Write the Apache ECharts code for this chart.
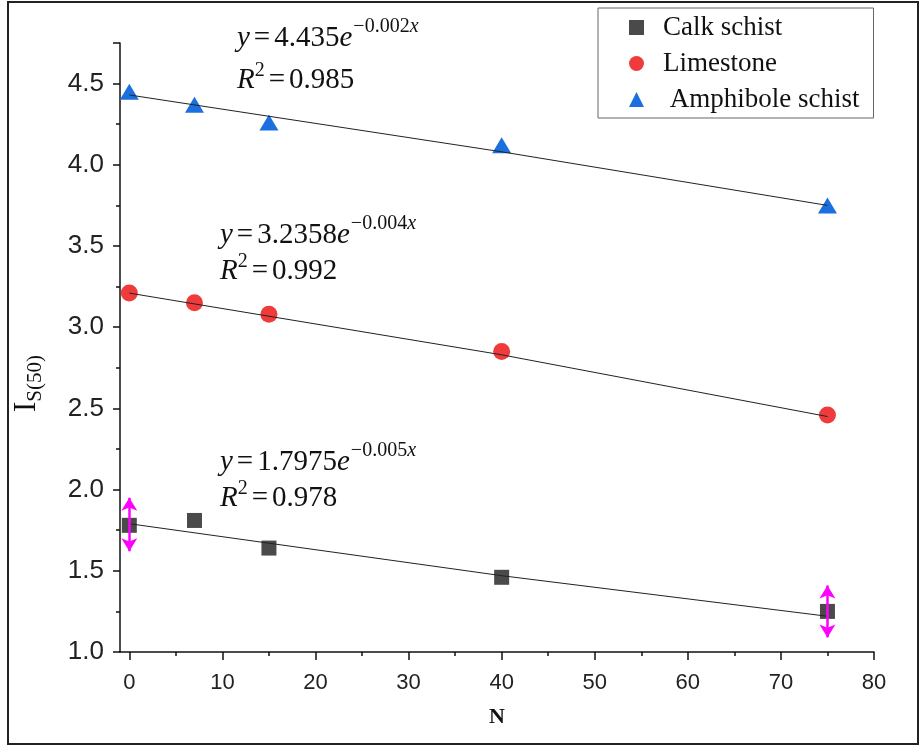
<!DOCTYPE html>
<html>
<head>
<meta charset="utf-8">
<script src="https://cdn.jsdelivr.net/npm/echarts@6/dist/echarts.min.js"></script>
<style>html,body{margin:0;padding:0;background:#fff}#c{width:923px;height:746px}</style>
</head>
<body>
<div id="c"></div>
<script>
// ---- data ----
const xN = [0, 7, 15, 40, 75];
const calkSchist = [1.78, 1.81, 1.64, 1.46, 1.25];
const limestone = [3.21, 3.15, 3.08, 2.85, 2.46];
const amphiboleSchist = [4.45, 4.37, 4.26, 4.12, 3.75];

const xFit = [0, 40, 75];
const calkFit = [1.79, 1.47, 1.22];
const limeFit = [3.21, 2.83, 2.45];
const amphFit = [4.43, 4.08, 3.75];

// error arrows (x, low, high)
const arrowX = [0, 75];
const arrowLow = [1.62, 1.09];
const arrowHigh = [1.95, 1.41];

const xTicks = [0, 10, 20, 30, 40, 50, 60, 70, 80];
const xMinorTicks = [5, 15, 25, 35, 45, 55, 65, 75];

const seriesNames = ['Calk schist', 'Limestone', 'Amphibole schist'];
const eqCoef = ['4.435', '3.2358', '1.7975'];
const eqExp = ['\u22120.002', '\u22120.004', '\u22120.005'];
const eqR2 = ['0.985', '0.992', '0.978'];

const colors = ['#4a4a4a', '#ef3b3b', '#1c6fdf'];

const pairs = (xs, ys) => xs.map((x, i) => [x, ys[i]]);

// ---- text helpers ----
const mctx = document.createElement('canvas').getContext('2d');
function w(text, font) { mctx.font = font; return mctx.measureText(text).width; }
const SERIF = '"Liberation Serif", "Times New Roman", serif';

function richLine(x0, yc, parts) {
  const els = [];
  let x = x0;
  parts.forEach(p => {
    const style = (p.italic ? 'italic ' : '') + p.size + 'px ' + SERIF;
    els.push({
      type: 'text', x: x, y: yc + (p.dy || 0),
      style: { text: p.t, font: style, fill: '#111', textVerticalAlign: 'middle', textAlign: 'left' },
      silent: true, z: 50
    });
    x += w(p.t, style) + (p.gap || 0);
  });
  return els;
}

const eqPos = [[237, 38, 80], [220, 235, 271], [220, 462, 498]];
let graphics = [];
eqPos.forEach((pos, i) => {
  const S = 29, s = 20;
  graphics = graphics.concat(richLine(pos[0], pos[1], [
    { t: 'y', italic: true, size: S, gap: 4 },
    { t: '=', size: S, gap: 4 },
    { t: eqCoef[i], size: S },
    { t: 'e', italic: true, size: S, gap: 1 },
    { t: eqExp[i], size: s, dy: -11 },
    { t: 'x', italic: true, size: s, dy: -11 }
  ]));
  graphics = graphics.concat(richLine(pos[0], pos[2], [
    { t: 'R', italic: true, size: S },
    { t: '2', size: s, dy: -9, gap: 4 },
    { t: '=', size: S, gap: 4 },
    { t: eqR2[i], size: S }
  ]));
});

// y axis name, rotated
graphics.push({
  type: 'group', x: 27, y: 376, rotation: Math.PI / 2, silent: true,
  children: [
    { type: 'text', x: -36, y: 0, style: { text: 'I', font: '31px ' + SERIF, fill: '#111', textVerticalAlign: 'middle' } },
    { type: 'text', x: -36 + w('I', '31px ' + SERIF), y: 8, style: { text: 'S(50)', font: '21px ' + SERIF, fill: '#111', textVerticalAlign: 'middle' } }
  ]
});

// outer frame
graphics.push({
  type: 'rect', shape: { x: 8, y: 2, width: 910, height: 742 },
  style: { fill: 'none', stroke: '#222', lineWidth: 2 }, silent: true, z: -1
});

const chart = echarts.init(document.getElementById('c'), null, { renderer: 'canvas' });

const scatterSeries = [
  { name: seriesNames[0], type: 'scatter', data: pairs(xN, calkSchist), symbol: 'rect', symbolSize: 15, itemStyle: { color: colors[0], opacity: 1 }, z: 5,
    markLine: {
      silent: true, symbol: ['arrow', 'arrow'], symbolSize: [12, 13], label: { show: false },
      lineStyle: { color: '#ff00ff', width: 2.5, type: 'solid', opacity: 1 }, animation: false, z: 10,
      data: arrowX.map((x, i) => [{ coord: [x, arrowLow[i]] }, { coord: [x, arrowHigh[i]] }])
    } },
  { name: seriesNames[1], type: 'scatter', data: pairs(xN, limestone), symbol: 'circle', symbolSize: 17, itemStyle: { color: colors[1], opacity: 1 }, z: 5 },
  { name: seriesNames[2], type: 'scatter', data: pairs(xN, amphiboleSchist), symbol: 'triangle', symbolSize: [19, 16], itemStyle: { color: colors[2], opacity: 1 }, z: 5 }
];
const fitStyle = { type: 'line', showSymbol: false, symbol: 'none', lineStyle: { color: '#222', width: 1 }, z: 6, silent: true, smooth: false };
const fitSeries = [
  Object.assign({ data: pairs(xFit, calkFit) }, fitStyle),
  Object.assign({ data: pairs(xFit, limeFit) }, fitStyle),
  Object.assign({ data: pairs(xFit, amphFit) }, fitStyle)
];

chart.setOption({
  animation: false,
  backgroundColor: '#fff',
  grid: { left: 120, right: 49, top: 43, bottom: 94, containLabel: false },
  legend: {
    data: seriesNames, orient: 'vertical', left: 598, top: 8,
    padding: [6, 14, 5, 31], itemWidth: 15, itemHeight: 15, itemGap: 9,
    borderColor: '#666', borderWidth: 1, backgroundColor: '#fff',
    formatter: n => (n === 'Amphibole schist' ? ' ' + n : n),
    textStyle: { fontFamily: SERIF, fontSize: 27, color: '#111', padding: [0, 0, 0, 14] }
  },
  xAxis: [{
    type: 'value', min: -1, max: 80,
    name: 'N', nameLocation: 'middle', nameGap: 54,
    nameTextStyle: { fontFamily: SERIF, fontWeight: 'bold', fontSize: 22, color: '#111' },
    axisLine: { show: true, onZero: false, lineStyle: { color: '#111', width: 1.5 } },
    axisTick: { show: true, length: 8, customValues: xTicks, lineStyle: { color: '#111', width: 1.5 } },
    axisLabel: { customValues: xTicks, margin: 20, fontFamily: '"Liberation Sans", Arial, sans-serif', fontSize: 22, color: '#222' },
    splitLine: { show: false }
  }, {
    type: 'value', min: -1, max: 80, position: 'bottom', gridIndex: 0,
    axisLine: { show: false },
    axisTick: { show: true, length: 4, customValues: xMinorTicks, lineStyle: { color: '#111', width: 1.5 } },
    axisLabel: { show: false }, splitLine: { show: false }
  }],
  yAxis: {
    type: 'value', min: 1, max: 4.75, interval: 0.5,
    axisLine: { show: true, onZero: false, lineStyle: { color: '#111', width: 1.5 } },
    axisTick: { show: true, length: 7, lineStyle: { color: '#111', width: 1.5 } },
    minorTick: { show: true, splitNumber: 2, length: 4, lineStyle: { color: '#111', width: 1.5 } },
    axisLabel: { showMaxLabel: false, margin: 16, fontFamily: '"Liberation Sans", Arial, sans-serif', fontSize: 26, color: '#222', formatter: v => v.toFixed(1) },
    splitLine: { show: false }, minorSplitLine: { show: false }
  },
  series: fitSeries.concat(scatterSeries),
  graphic: graphics
});
</script>
</body>
</html>
